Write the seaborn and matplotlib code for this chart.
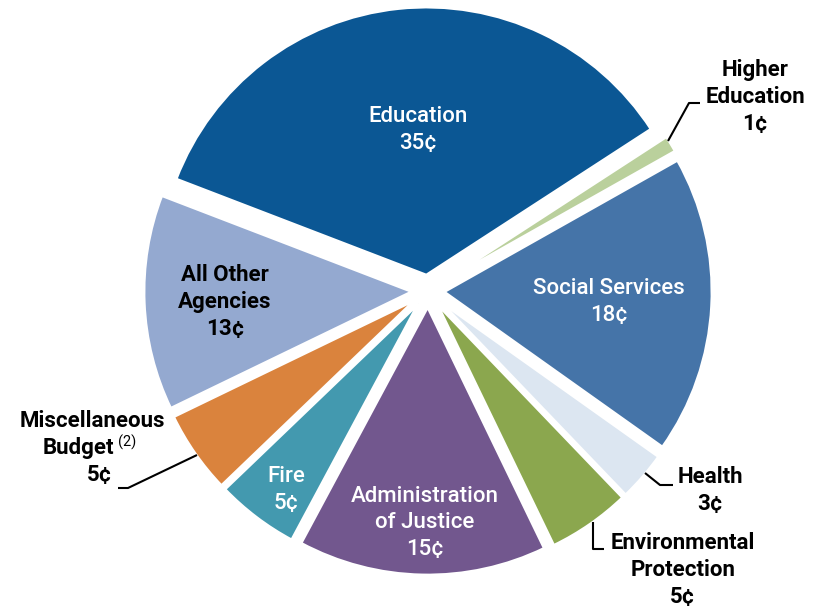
import matplotlib
matplotlib.use("Agg")
import matplotlib.pyplot as plt
import seaborn as sns

sns.set_theme(style="white")
plt.rcParams["font.family"] = ["Roboto", "DejaVu Sans"]

# Share of each budget dollar, in cents (clockwise from Education)
categories = [
    "Education",
    "Higher Education",
    "Social Services",
    "Health",
    "Environmental Protection",
    "Administration of Justice",
    "Fire",
    "Miscellaneous Budget",
    "All Other Agencies",
]
cents = [35, 1, 18, 3, 5, 15, 5, 5, 13]
colors = [
    "#0b5794", "#bad09c", "#4574a8", "#dce6f1", "#8ba74e",
    "#72578e", "#4399af", "#da833d", "#94a9d0",
]
# Label text lines (the amount line is added from the data)
label_lines = [
    ["Education"],
    ["Higher", "Education"],
    ["Social Services"],
    ["Health"],
    ["Environmental", "Protection"],
    ["Administration", "of Justice"],
    ["Fire"],
    ["Miscellaneous", "Budget"],
    ["All Other", "Agencies"],
]

W, H = 822, 607
fig = plt.figure(figsize=(W / 100, H / 100), dpi=100)
ax = fig.add_axes([0, 0, 1, 1])

cx, cy, radius = 428, H - 291, 268
ax.pie(
    cents,
    colors=colors,
    startangle=159,
    counterclock=False,
    radius=radius,
    center=(cx, cy),
    explode=[16] * len(cents),
    wedgeprops=dict(edgecolor="white", linewidth=2),
)
ax.set_xlim(0, W)
ax.set_ylim(0, H)
ax.set_aspect("equal")
ax.set_axis_off()

# label block: x centre, y of first line (image rows), text colour, weight
label_pos = [
    (418, 117, "white", "medium"),
    (755, 70, "black", "bold"),
    (609, 289, "white", "medium"),
    (710, 477, "black", "bold"),
    (683, 543, "black", "bold"),
    (425, 496, "white", "medium"),
    (286, 476, "white", "medium"),
    (92, 421, "black", "bold"),
    (225, 275, "black", "bold"),
]
step = 27
fs = 16
for lines, v, (x, y0, col, wt) in zip(label_lines, cents, label_pos):
    all_lines = lines + [f"{v}\u00a2"]
    for i, s in enumerate(all_lines):
        dx = 0
        if s == "Budget":
            dx = -14
        if lines[0] == "Miscellaneous" and i == 2:
            dx = 8
        ax.text(x + dx, H - (y0 + i * step), s, ha="center", va="center",
                fontsize=fs, color=col, fontweight=wt)
        if s == "Budget":
            ax.text(x + dx + 40, H - (y0 + i * step - 6), "(2)", ha="left",
                    va="center", fontsize=10.5, color="black")

# leader lines (image coordinates)
leaders = [
    [(668, 141), (689, 103), (700, 103)],
    [(645, 473), (660, 485), (673, 485)],
    [(593, 522), (593, 549), (604, 549)],
    [(197, 455), (128, 488), (118, 488)],
]
for pts in leaders:
    xs = [p[0] for p in pts]
    ys = [H - p[1] for p in pts]
    ax.plot(xs, ys, color="black", lw=1.5, solid_capstyle="butt")

fig.savefig("out.png", dpi=100)
